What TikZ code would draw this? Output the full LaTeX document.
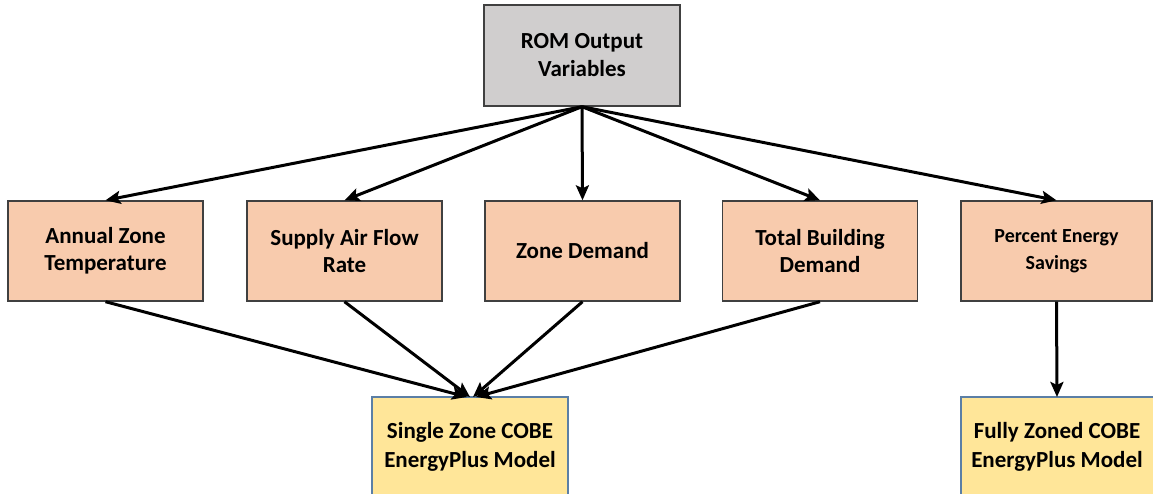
\documentclass[tikz,border=0pt]{standalone}
\usepackage{fontspec}
\setmainfont{Carlito}
\usetikzlibrary{arrows.meta}
\definecolor{topfill}{HTML}{D0CECE}
\definecolor{midfill}{HTML}{F8CBAD}
\definecolor{botfill}{HTML}{FFE699}
\definecolor{botdraw}{HTML}{5B7FA6}
\definecolor{boxdraw}{HTML}{404040}
\tikzset{
  topbox/.style={draw=boxdraw, line width=1.4pt, fill=topfill, minimum width=196pt, minimum height=101pt, align=center, font=\bfseries\fontsize{23}{28}\selectfont, inner sep=0pt},
  midbox/.style={draw=boxdraw, line width=1.4pt, fill=midfill, minimum width=195pt, minimum height=100pt, align=center, font=\bfseries\fontsize{23}{27}\selectfont, inner sep=0pt},
  bottext/.style={align=center, font=\bfseries\fontsize{23}{29}\selectfont, inner sep=0pt},
  botframe/.style={draw=botdraw, line width=1.2pt},
  arr/.style={line width=3pt, -{Stealth[length=15pt,width=13pt,inset=3pt]}}
}
\begin{document}
\begin{tikzpicture}[x=1pt,y=-1pt]
\useasboundingbox (0,0) rectangle (1153,493);
\node[topbox] (rom) at (582,55.5) {ROM Output\\Variables};
\node[midbox] (azt) at (105.5,251) {Annual Zone\\Temperature};
\node[midbox] (saf) at (344.5,251) {Supply Air Flow\\Rate};
\node[midbox] (zd) at (582.5,251) {Zone Demand};
\node[midbox] (tbd) at (820,251) {Total Building\\Demand};
\node[midbox, minimum width=191pt, font=\bfseries\fontsize{20}{27}\selectfont] (pes) at (1056.5,251) {Percent Energy\\Savings};
\fill[botfill] (372,397) rectangle (568,500);
\draw[botframe] (372,500) -- (372,397) -- (568,397) -- (568,500);
\node[bottext] (sz) at (470,447) {Single Zone COBE\\EnergyPlus Model};
\fill[botfill] (961,397) rectangle (1160,500);
\draw[botframe] (961,500) -- (961,397) -- (1160,397);
\node[bottext] (fz) at (1057,447) {Fully Zoned COBE\\EnergyPlus Model};
\coordinate (szt1) at (467,397);
\coordinate (szt2) at (470,397);
\coordinate (szt3) at (473,397);
\coordinate (szt4) at (476,397);
\coordinate (fzt) at (1057,397);
\draw[arr] (rom.south) -- (azt.north);
\draw[arr] (rom.south) -- (saf.north);
\draw[arr] (rom.south) -- (zd.north);
\draw[arr] (rom.south) -- (tbd.north);
\draw[arr] (rom.south) -- (pes.north);
\draw[arr] (azt.south) -- (szt1);
\draw[arr] (saf.south) -- (szt2);
\draw[arr] (zd.south) -- (szt3);
\draw[arr] (tbd.south) -- (szt4);
\draw[arr] (pes.south) -- (fzt);
\end{tikzpicture}
\end{document}
